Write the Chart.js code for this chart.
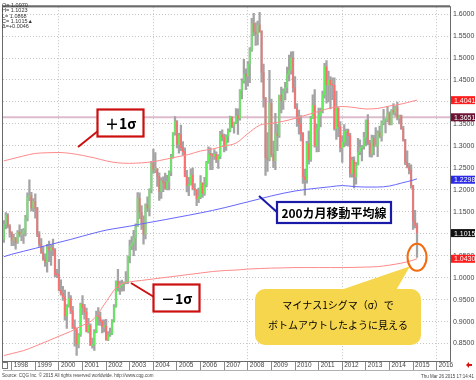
<!DOCTYPE html>
<html>
<head>
<meta charset="utf-8">
<script src="https://cdn.jsdelivr.net/npm/chart.js@4.4.1/dist/chart.umd.min.js"></script>
<style>
  html, body { margin: 0; padding: 0; background: #fff; }
  #wrap { width: 476px; height: 380px; }
</style>
</head>
<body>
<div id="wrap"><canvas id="eurChart" width="476" height="380"></canvas></div>
<script>
// EUR/USD monthly candles, Sep 1997 .. Mar 2015
// month index 0 = Jan 1998
const firstMonth = -4;

const opens = [
  1.0870, 1.1210, 1.1420, 1.1180,
  1.1020, 1.0850, 1.0890, 1.0800, 1.1030, 1.0980, 1.1000, 1.1080, 1.1360, 1.1840, 1.1870, 1.1580,
  1.1740, 1.1580, 1.0990, 1.0765, 1.0575, 1.0430, 1.0345, 1.0685, 1.0620, 1.0680, 1.0635, 1.0075,
  1.0070, 0.9720, 0.9645, 0.9565, 0.9130, 0.9345, 0.9525, 0.9240, 0.8880, 0.8810, 0.8485, 0.8700,
  0.9400, 0.9330, 0.9215, 0.8770, 0.8910, 0.8460, 0.8480, 0.8760, 0.9120, 0.9105, 0.9005, 0.8880,
  0.8900, 0.8585, 0.8700, 0.8720, 0.9015, 0.9335, 0.9915, 0.9780, 0.9815, 0.9865, 0.9885, 0.9920,
  1.0490, 1.0725, 1.0785, 1.0905, 1.1160, 1.1805, 1.1495, 1.1245, 1.0985, 1.1650, 1.1580, 1.1990,
  1.2595, 1.2465, 1.2480, 1.2305, 1.1965, 1.2200, 1.2170, 1.2025, 1.2180, 1.2410, 1.2760, 1.3295,
  1.3555, 1.3035, 1.3250, 1.2960, 1.2870, 1.2300, 1.2100, 1.2125, 1.2335, 1.2030, 1.1995, 1.1795,
  1.1840, 1.2155, 1.1920, 1.2115, 1.2625, 1.2815, 1.2795, 1.2765, 1.2810, 1.2680, 1.2760, 1.3250,
  1.3200, 1.2990, 1.3225, 1.3355, 1.3655, 1.3450, 1.3530, 1.3685, 1.3630, 1.4265, 1.4480, 1.4630,
  1.4590, 1.4860, 1.5185, 1.5790, 1.5595, 1.5550, 1.5750, 1.5600, 1.4670, 1.4085, 1.2730, 1.2700,
  1.3970, 1.2800, 1.2665, 1.3280, 1.3240, 1.4150, 1.4030, 1.4250, 1.4330, 1.4635, 1.4715, 1.5000,
  1.4325, 1.3860, 1.3625, 1.3510, 1.3290, 1.2295, 1.2230, 1.3050, 1.2690, 1.3630, 1.3925, 1.3000,
  1.3380, 1.3695, 1.3800, 1.4160, 1.4805, 1.4390, 1.4500, 1.4395, 1.4380, 1.3390, 1.3860, 1.3440,
  1.2960, 1.3080, 1.3320, 1.3340, 1.3235, 1.2365, 1.2665, 1.2300, 1.2575, 1.2860, 1.2960, 1.2985,
  1.3195, 1.3580, 1.3055, 1.2815, 1.3170, 1.2995, 1.3010, 1.3300, 1.3220, 1.3525, 1.3585, 1.3590,
  1.3745, 1.3490, 1.3805, 1.3770, 1.3870, 1.3635, 1.3690, 1.3390, 1.3130, 1.2630, 1.2525, 1.2450,
  1.2100, 1.1290, 1.1196
];
const highs = [
  1.1300, 1.1480, 1.1460, 1.1210,
  1.1050, 1.0990, 1.0920, 1.1070, 1.1200, 1.1100, 1.1120, 1.1420, 1.1930, 1.2230, 1.1940, 1.1800,
  1.1906, 1.1600, 1.1050, 1.0890, 1.0710, 1.0540, 1.0760, 1.0835, 1.0735, 1.0880, 1.0660, 1.0190,
  1.0415, 0.9950, 0.9800, 0.9715, 0.9390, 0.9670, 0.9590, 0.9345, 0.9040, 0.8860, 0.8730, 0.9420,
  0.9595, 0.9395, 0.9310, 0.9075, 0.8950, 0.8625, 0.8820, 0.9240, 0.9320, 0.9215, 0.9040, 0.9040,
  0.9050, 0.8775, 0.8850, 0.9045, 0.9390, 0.9930, 1.0190, 0.9925, 0.9945, 0.9905, 1.0140, 1.0495,
  1.0855, 1.0935, 1.1080, 1.1225, 1.1935, 1.1930, 1.1640, 1.1410, 1.1680, 1.1840, 1.2020, 1.2650,
  1.2930, 1.2850, 1.2485, 1.2385, 1.2270, 1.2295, 1.2380, 1.2330, 1.2430, 1.2810, 1.3305, 1.3667,
  1.3575, 1.3285, 1.3475, 1.3100, 1.2955, 1.2445, 1.2285, 1.2475, 1.2500, 1.2140, 1.2010, 1.2040,
  1.2325, 1.2160, 1.2285, 1.2650, 1.2980, 1.2955, 1.2830, 1.2915, 1.2865, 1.2800, 1.3330, 1.3365,
  1.3270, 1.3250, 1.3390, 1.3680, 1.3660, 1.3540, 1.3850, 1.3845, 1.4280, 1.4525, 1.4970, 1.4755,
  1.4920, 1.5240, 1.5905, 1.6020, 1.5800, 1.5840, 1.6038, 1.5625, 1.4865, 1.4105, 1.3300, 1.4720,
  1.4065, 1.3110, 1.3740, 1.3490, 1.4155, 1.4340, 1.4300, 1.4445, 1.4795, 1.5065, 1.5140, 1.5145,
  1.4580, 1.3965, 1.3815, 1.3690, 1.3300, 1.2470, 1.3105, 1.3335, 1.3670, 1.4160, 1.4280, 1.3500,
  1.3860, 1.3860, 1.4250, 1.4880, 1.4940, 1.4700, 1.4580, 1.4550, 1.4550, 1.4250, 1.3870, 1.3555,
  1.3235, 1.3485, 1.3385, 1.3380, 1.3285, 1.2745, 1.2750, 1.2625, 1.3170, 1.3140, 1.3010, 1.3310,
  1.3595, 1.3710, 1.3125, 1.3245, 1.3240, 1.3415, 1.3345, 1.3450, 1.3570, 1.3830, 1.3620, 1.3895,
  1.3775, 1.3825, 1.3965, 1.3905, 1.3995, 1.3700, 1.3700, 1.3445, 1.3150, 1.2885, 1.2600, 1.2570,
  1.2100, 1.1535, 1.1245
];
const lows = [
  1.0800, 1.1110, 1.1130, 1.0920,
  1.0730, 1.0730, 1.0650, 1.0780, 1.0930, 1.0840, 1.0780, 1.0950, 1.1290, 1.1750, 1.1520, 1.1510,
  1.1357, 1.0935, 1.0710, 1.0550, 1.0390, 1.0255, 1.0125, 1.0365, 1.0280, 1.0500, 1.0020, 1.0000,
  0.9700, 0.9600, 0.9480, 0.9030, 0.8845, 0.9330, 0.9180, 0.8840, 0.8440, 0.8228, 0.8400, 0.8660,
  0.9155, 0.9055, 0.8765, 0.8740, 0.8455, 0.8395, 0.8344, 0.8745, 0.8920, 0.8915, 0.8745, 0.8765,
  0.8580, 0.8565, 0.8660, 0.8705, 0.8985, 0.9330, 0.9690, 0.9620, 0.9695, 0.9700, 0.9855, 0.9865,
  1.0335, 1.0640, 1.0500, 1.0620, 1.1160, 1.1345, 1.1100, 1.0765, 1.0880, 1.1500, 1.1405, 1.1930,
  1.2375, 1.2390, 1.2080, 1.1760, 1.1805, 1.1960, 1.2015, 1.2000, 1.2000, 1.2320, 1.2720, 1.3245,
  1.2955, 1.2835, 1.2890, 1.2790, 1.2300, 1.1950, 1.1865, 1.2105, 1.2000, 1.1875, 1.1640, 1.1710,
  1.1800, 1.1825, 1.1870, 1.2065, 1.2600, 1.2460, 1.2460, 1.2690, 1.2615, 1.2485, 1.2710, 1.3115,
  1.2865, 1.2895, 1.3080, 1.3320, 1.3415, 1.3290, 1.3505, 1.3260, 1.3585, 1.4070, 1.4425, 1.4280,
  1.4360, 1.4440, 1.5150, 1.5510, 1.5285, 1.5300, 1.5585, 1.4450, 1.3880, 1.2330, 1.2420, 1.2655,
  1.2750, 1.2505, 1.2457, 1.2890, 1.3195, 1.3750, 1.3830, 1.4045, 1.4205, 1.4480, 1.4630, 1.4220,
  1.3855, 1.3445, 1.3265, 1.3115, 1.2145, 1.1876, 1.2150, 1.2585, 1.2645, 1.3625, 1.2970, 1.2860,
  1.2870, 1.3430, 1.3750, 1.4085, 1.3970, 1.4000, 1.3840, 1.4050, 1.3360, 1.3145, 1.3210, 1.2860,
  1.2625, 1.2975, 1.3005, 1.2995, 1.2285, 1.2290, 1.2042, 1.2130, 1.2560, 1.2800, 1.2660, 1.2925,
  1.3000, 1.3020, 1.2750, 1.2745, 1.2795, 1.2985, 1.2755, 1.3180, 1.3105, 1.3480, 1.3295, 1.3545,
  1.3475, 1.3475, 1.3705, 1.3675, 1.3590, 1.3500, 1.3375, 1.3110, 1.2570, 1.2500, 1.2360, 1.2035,
  1.1098, 1.1130, 1.0462
];
const closes = [
  1.1210, 1.1420, 1.1180, 1.1020,
  1.0850, 1.0890, 1.0800, 1.1030, 1.0980, 1.1000, 1.1080, 1.1360, 1.1840, 1.1870, 1.1580, 1.1740,
  1.1580, 1.0990, 1.0765, 1.0575, 1.0430, 1.0345, 1.0685, 1.0620, 1.0680, 1.0635, 1.0075, 1.0070,
  0.9720, 0.9645, 0.9565, 0.9130, 0.9345, 0.9525, 0.9240, 0.8880, 0.8810, 0.8485, 0.8700, 0.9400,
  0.9330, 0.9215, 0.8770, 0.8910, 0.8460, 0.8480, 0.8760, 0.9120, 0.9105, 0.9005, 0.8880, 0.8900,
  0.8585, 0.8700, 0.8720, 0.9015, 0.9335, 0.9915, 0.9780, 0.9815, 0.9865, 0.9885, 0.9920, 1.0490,
  1.0725, 1.0785, 1.0905, 1.1160, 1.1805, 1.1495, 1.1245, 1.0985, 1.1650, 1.1580, 1.1990, 1.2595,
  1.2465, 1.2480, 1.2305, 1.1965, 1.2200, 1.2170, 1.2025, 1.2180, 1.2410, 1.2760, 1.3295, 1.3555,
  1.3035, 1.3250, 1.2960, 1.2870, 1.2300, 1.2100, 1.2125, 1.2335, 1.2030, 1.1995, 1.1795, 1.1840,
  1.2155, 1.1920, 1.2115, 1.2625, 1.2815, 1.2795, 1.2765, 1.2810, 1.2680, 1.2760, 1.3250, 1.3200,
  1.2990, 1.3225, 1.3355, 1.3655, 1.3450, 1.3530, 1.3685, 1.3630, 1.4265, 1.4480, 1.4630, 1.4590,
  1.4860, 1.5185, 1.5790, 1.5595, 1.5550, 1.5750, 1.5600, 1.4670, 1.4085, 1.2730, 1.2700, 1.3970,
  1.2800, 1.2665, 1.3280, 1.3240, 1.4150, 1.4030, 1.4250, 1.4330, 1.4635, 1.4715, 1.5000, 1.4325,
  1.3860, 1.3625, 1.3510, 1.3290, 1.2295, 1.2230, 1.3050, 1.2690, 1.3630, 1.3925, 1.3000, 1.3380,
  1.3695, 1.3800, 1.4160, 1.4805, 1.4390, 1.4500, 1.4395, 1.4380, 1.3390, 1.3860, 1.3440, 1.2960,
  1.3080, 1.3320, 1.3340, 1.3235, 1.2365, 1.2665, 1.2300, 1.2575, 1.2860, 1.2960, 1.2985, 1.3195,
  1.3580, 1.3055, 1.2815, 1.3170, 1.2995, 1.3010, 1.3300, 1.3220, 1.3525, 1.3585, 1.3590, 1.3745,
  1.3490, 1.3805, 1.3770, 1.3870, 1.3635, 1.3690, 1.3390, 1.3130, 1.2630, 1.2525, 1.2450, 1.2100,
  1.1290, 1.1196, 1.1015
];

// 200-month moving average and +/-1 sigma bands
const bandMonths = [-4, 0, 6, 12, 18, 24, 30, 36, 42, 48, 54, 60, 66, 72, 78, 84, 90, 96, 102, 108,
  114, 120, 126, 132, 138, 144, 150, 156, 162, 168, 174, 180, 186, 192, 198, 204, 206];
const ma200 = [1.0477, 1.0533, 1.0601, 1.0668, 1.0736, 1.0803, 1.0871, 1.0945, 1.1017, 1.1082,
  1.1129, 1.1172, 1.1224, 1.1273, 1.1321, 1.1372, 1.1422, 1.1474, 1.1530, 1.1591, 1.1658, 1.1726,
  1.1793, 1.1861, 1.1921, 1.1973, 1.2011, 1.2041, 1.2070, 1.2097, 1.2074, 1.2063, 1.2063, 1.2086,
  1.2153, 1.2221, 1.2250];
const upperBand = [1.2659, 1.2704, 1.2772, 1.2828, 1.2844, 1.2850, 1.2828, 1.2783, 1.2727, 1.2659,
  1.2614, 1.2603, 1.2614, 1.2641, 1.2693, 1.2749, 1.2805, 1.2884, 1.2929, 1.2997, 1.3064, 1.3278,
  1.3469, 1.3514, 1.3559, 1.3627, 1.3705, 1.3784, 1.3863, 1.3897, 1.3874, 1.3840, 1.3852, 1.3908,
  1.3953, 1.4020, 1.4041];
const lowerBand = [0.8227, 0.8272, 0.8340, 0.8441, 0.8553, 0.8666, 0.8778, 0.8913, 0.9071, 0.9453,
  0.9813, 0.9903, 0.9937, 0.9971, 1.0005, 1.0038, 1.0072, 1.0106, 1.0140, 1.0162, 1.0173, 1.0196,
  1.0207, 1.0218, 1.0223, 1.0230, 1.0230, 1.0230, 1.0230, 1.0230, 1.0234, 1.0241, 1.0252, 1.0286,
  1.0331, 1.0398, 1.0430];

const refLevel = 1.3651;
const yearLabels = ['1998', '1999', '2000', '2001', '2002', '2003', '2004', '2005', '2006', '2007',
  '2008', '2009', '2010', '2011', '2012', '2013', '2014', '2015', '2016'];
const priceTicks = [0.85, 0.90, 0.95, 1.00, 1.05, 1.10, 1.15, 1.20, 1.25, 1.30, 1.35, 1.40, 1.45,
  1.50, 1.55, 1.60];

// coloured value boxes on the right axis
const axisMarkers = [
  { value: 1.4041, text: '1.4041', bg: '#ff1c1c', dy: 0 },
  { value: 1.3651, text: '1.3651', bg: '#6c1232', dy: 0 },
  { value: 1.2298, text: '1.2298', bg: '#2a2ae8', dy: 3 },
  { value: 1.1015, text: '1.1015', bg: '#111111', dy: 0 },
  { value: 1.0430, text: '1.0430', bg: '#ff1c1c', dy: 0 }
];
const infoLines = ['O= 1.0970', 'H= 1.1023', 'L= 1.0868', 'C= 1.1015\u25B2', '\u0394=+0.0046'];

const X_MIN = -4.42;
const X_MAX = 222.76;
const upColor = '#5ff05a';
const downColor = '#ff6e6e';
const wickColor = '#a4a4a4';

const months = opens.map((o, k) => firstMonth + k);
const wickData = months.map((m, k) => ({ x: m, y: [lows[k], highs[k]] }));
const bodyData = months.map((m, k) => ({ x: m, y: [opens[k], closes[k]] }));
const bodyColors = months.map((m, k) => (closes[k] >= opens[k] ? upColor : downColor));
const toPoints = (vals) => vals.map((v, k) => ({ x: bandMonths[k], y: v }));

// callouts, labels and frame
const overlay = {
  id: 'overlay',
  afterDatasetsDraw(chart) {
    const ctx = chart.ctx;
    const xs = chart.scales.x;
    const ys = chart.scales.y;
    ctx.save();

    // pointer lines
    ctx.lineWidth = 2;
    ctx.strokeStyle = '#cc1010';
    ctx.beginPath(); ctx.moveTo(78, 147); ctx.lineTo(98, 131); ctx.stroke();
    ctx.beginPath(); ctx.moveTo(131, 283); ctx.lineTo(154, 297); ctx.stroke();
    ctx.strokeStyle = '#1a1aa8';
    ctx.beginPath(); ctx.moveTo(259, 196); ctx.lineTo(278, 213); ctx.stroke();

    drawBox(ctx, 97.5, 109.5, 46, 27, '#cc1010', '\uFF0B1\u03C3', 'bold 14px "Noto Sans CJK JP"');
    drawBox(ctx, 153.5, 284.5, 46, 27, '#cc1010', '\uFF0D1\u03C3', 'bold 14px "Noto Sans CJK JP"');
    drawBox(ctx, 277, 202, 114, 21, '#1a1aa8', '200カ月移動平均線', 'bold 12px "Noto Sans CJK JP"');

    // yellow balloon
    const lastIdx = months.length - 1;
    const ex = xs.getPixelForValue(months[lastIdx]);
    const ey = ys.getPixelForValue(lows[lastIdx]);
    ctx.fillStyle = '#f6d64c';
    ctx.beginPath();
    ctx.moveTo(335, 292); ctx.lineTo(395, 292); ctx.lineTo(ex - 7, ey + 9);
    ctx.closePath(); ctx.fill();
    ctx.beginPath();
    ctx.roundRect(255, 289, 166, 56, 10);
    ctx.fill();
    ctx.fillStyle = '#000';
    ctx.font = '10px "Noto Sans CJK JP"';
    ctx.textAlign = 'center';
    ctx.textBaseline = 'middle';
    ctx.fillText('マイナス1シグマ（σ）で', 338, 305);
    ctx.fillText('ボトムアウトしたように見える', 338, 325);

    // orange ring round the last bar
    ctx.strokeStyle = '#f26b0f';
    ctx.lineWidth = 2;
    ctx.beginPath();
    ctx.ellipse(ex, ey, 9.5, 13.5, 0, 0, Math.PI * 2);
    ctx.stroke();
    ctx.restore();
  },
  afterDraw(chart) {
    const ctx = chart.ctx;
    const ys = chart.scales.y;
    const a = chart.chartArea;
    ctx.save();

    // frame
    ctx.strokeStyle = '#6a6a6a';
    ctx.lineWidth = 1;
    ctx.strokeRect(a.left - 0.5, a.top - 0.5, a.right - a.left + 1, a.bottom - a.top + 1);
    ctx.lineWidth = 2;
    ctx.beginPath(); ctx.moveTo(a.left - 1, a.top - 1); ctx.lineTo(a.right, a.top - 1); ctx.stroke();
    ctx.lineWidth = 1;
    ctx.strokeStyle = '#b0b0b0';
    ctx.beginPath(); ctx.moveTo(a.left, 370.5); ctx.lineTo(a.right, 370.5); ctx.stroke();
    ctx.strokeStyle = '#777';
    ctx.strokeRect(2.5, 362.5, 5, 6);

    // value boxes
    ctx.font = '7px "Liberation Sans"';
    ctx.textAlign = 'left';
    ctx.textBaseline = 'middle';
    axisMarkers.forEach((m) => {
      const y = ys.getPixelForValue(m.value) + m.dy;
      ctx.fillStyle = m.bg;
      ctx.fillRect(a.right + 1, y - 4, 24, 8);
      ctx.fillStyle = '#fff';
      ctx.fillText(m.text, a.right + 4, y + 0.5);
    });

    // quote readout
    ctx.fillStyle = '#333';
    ctx.font = '5.5px "Liberation Sans"';
    ctx.textBaseline = 'alphabetic';
    infoLines.forEach((t, k) => ctx.fillText(t, 2, 7 + k * 5.3));

    // footer
    ctx.font = '4.5px "Liberation Sans"';
    ctx.fillStyle = '#444';
    ctx.fillText('Source: CQG Inc. \u00A9 2015 All rights reserved worldwide. http://www.cqg.com', 2, 377);
    ctx.textAlign = 'right';
    ctx.fillText('Thu Mar 26 2015 17:14:41', 474, 378);

    // little red arrow
    ctx.fillStyle = '#e01010';
    ctx.beginPath();
    ctx.moveTo(466, 365); ctx.lineTo(469, 362); ctx.lineTo(469, 368); ctx.closePath(); ctx.fill();
    ctx.fillRect(469, 364, 3, 2);
    ctx.restore();
  }
};

function drawBox(ctx, x, y, w, h, stroke, text, font) {
  ctx.fillStyle = '#fff';
  ctx.fillRect(x, y, w, h);
  ctx.lineWidth = 2.2;
  ctx.strokeStyle = stroke;
  ctx.strokeRect(x, y, w, h);
  ctx.fillStyle = '#000';
  ctx.font = font;
  ctx.textAlign = 'center';
  ctx.textBaseline = 'middle';
  ctx.fillText(text, x + w / 2, y + h / 2 + 1);
}

new Chart(document.getElementById('eurChart'), {
  type: 'bar',
  data: {
    datasets: [
      {
        type: 'line', data: toPoints(ma200), borderColor: '#6666ff', borderWidth: 1,
        pointRadius: 0, cubicInterpolationMode: 'monotone', order: 0
      },
      {
        type: 'line', data: toPoints(upperBand), borderColor: '#ff8a8a', borderWidth: 1,
        pointRadius: 0, cubicInterpolationMode: 'monotone', order: 0
      },
      {
        type: 'line', data: toPoints(lowerBand), borderColor: '#ff8a8a', borderWidth: 1,
        pointRadius: 0, cubicInterpolationMode: 'monotone', order: 0
      },
      {
        type: 'bar', data: bodyData, backgroundColor: bodyColors, barThickness: 1,
        minBarLength: 1, grouped: false, order: 1
      },
      {
        type: 'bar', data: wickData, backgroundColor: wickColor, barThickness: 1.6,
        grouped: false, order: 2
      },
      {
        type: 'line', data: [{ x: X_MIN, y: refLevel }, { x: X_MAX, y: refLevel }],
        borderColor: 'rgba(160,60,110,0.35)', borderWidth: 2, pointRadius: 0, order: 3
      }
    ]
  },
  options: {
    responsive: false,
    devicePixelRatio: 1,
    animation: false,
    layout: { padding: { left: 3, top: 3, right: 0, bottom: 0 } },
    plugins: { legend: { display: false }, tooltip: { enabled: false } },
    scales: {
      x: {
        type: 'linear',
        min: X_MIN,
        max: X_MAX,
        offset: false,
        afterBuildTicks: (axis) => { axis.ticks = yearLabels.map((t, k) => ({ value: k * 12 })); },
        afterFit: (axis) => { axis.height = 19; },
        ticks: {
          autoSkip: false,
          maxRotation: 0,
          align: 'start',
          labelOffset: 2,
          padding: -10,
          color: '#444',
          font: { family: 'Liberation Sans', size: 6.5 },
          callback: (v) => yearLabels[Math.round(v / 12)]
        },
        grid: {
          offset: false,
          color: (ctx) => (ctx.tick && ctx.tick.value % 48 === 24 ? '#c4c4c4' : 'rgba(0,0,0,0)'),
          tickColor: '#8a8a8a',
          tickLength: 10,
          tickBorderDash: []
        },
        border: { color: '#6a6a6a', dash: [1, 2] }
      },
      y: {
        position: 'right',
        min: 0.8103,
        max: 1.6157,
        afterBuildTicks: (axis) => { axis.ticks = priceTicks.map((v) => ({ value: v })); },
        afterFit: (axis) => { axis.width = 26; },
        ticks: {
          padding: 3,
          color: '#444',
          font: { family: 'Liberation Sans', size: 7 },
          callback: (v) => v.toFixed(4)
        },
        grid: { color: '#c4c4c4', drawTicks: false },
        border: { color: '#6a6a6a', dash: [1, 2] }
      }
    }
  },
  plugins: [overlay]
});
</script>
</body>
</html>
